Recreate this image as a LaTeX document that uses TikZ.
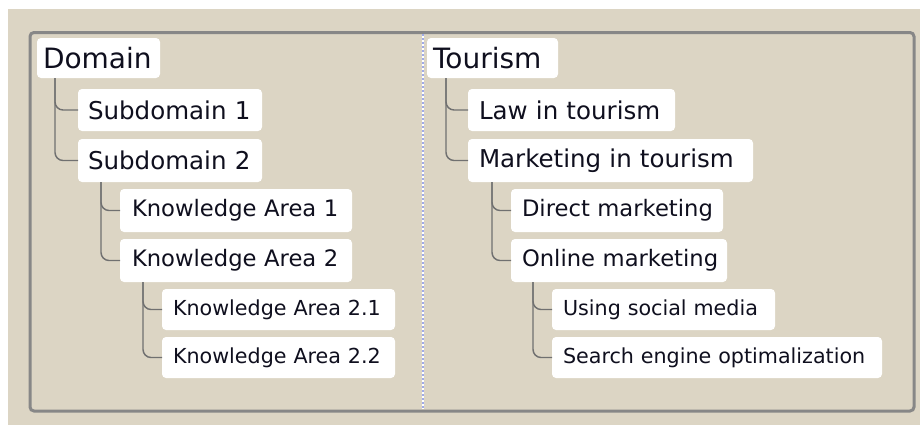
\documentclass[tikz,border=0pt]{standalone}
\usepackage{fontspec}
\setmainfont{DejaVu Sans}
\definecolor{bgc}{RGB}{220,213,196}
\definecolor{framec}{RGB}{135,135,135}
\definecolor{connc}{RGB}{112,112,112}
\definecolor{dotc}{RGB}{160,170,230}
\definecolor{txtc}{RGB}{15,15,30}
\tikzset{
  box/.style={fill=white, rounded corners=3pt, text=txtc, outer sep=0pt, align=left},
  conn/.style={draw=connc, line width=1.1pt, rounded corners=6pt},
  framebox/.style={draw=framec, line width=2.25pt, rounded corners=3pt},
}
% name, left, top, right, bottom, pad, fontsize(pt), text
\newcommand\tbox[8]{%
  \pgfmathsetmacro\tw{(#4-#2-2*#6)*0.75}%
  \pgfmathsetmacro\mh{(#5-#3)*0.75}%
  \pgfmathsetmacro\ix{#6*0.75}%
  \pgfmathsetmacro\ym{(#3+#5)/2}%
  \node[box, font=\fontsize{#7pt}{#7pt}\selectfont, anchor=west, text width=\tw pt,
        minimum height=\mh pt, inner xsep=\ix pt, inner ysep=0pt] (#1) at (#2,\ym) {\mbox{#8}};%
}
\begin{document}
\begin{tikzpicture}[x=0.75pt,y=-0.75pt]
\useasboundingbox (0,0) rectangle (920,425);
\fill[white] (0,0) rectangle (920,425);
\fill[bgc] (8,9) rectangle (920,425);
\draw[framebox] (30,32.5) rectangle (914,411);
\coordinate (dtop) at (423,34);
\coordinate (dbot) at (423,409);
\draw[white, line width=1.3pt] (dtop) -- (dbot);
\draw[dotc, line width=1.3pt, dash pattern=on 1.5pt off 1.5pt] (dtop) -- (dbot);

% left tree
\tbox{dom}{37}{38}{160}{78}{6}{21}{Domain}
\tbox{sub1}{78}{89}{262}{131}{10}{18.4}{Subdomain 1}
\tbox{sub2}{78}{139}{262}{182}{10}{18.4}{Subdomain 2}
\tbox{ka1}{120}{189}{352}{232}{12}{17}{Knowledge Area 1}
\tbox{ka2}{120}{239}{352}{282}{12}{17}{Knowledge Area 2}
\tbox{ka21}{162}{289}{395}{330}{11}{15.5}{Knowledge Area 2.1}
\tbox{ka22}{162}{337}{395}{378}{11}{15.5}{Knowledge Area 2.2}

% right tree
\tbox{tour}{427}{38}{558}{78}{6}{21}{Tourism}
\tbox{law}{468}{89}{675}{131}{11}{18.4}{Law in tourism}
\tbox{mkt}{468}{139}{753}{182}{11}{18.4}{Marketing in tourism}
\tbox{dir}{511}{189}{723}{232}{11}{17}{Direct marketing}
\tbox{onl}{511}{239}{727}{282}{11}{17}{Online marketing}
\tbox{soc}{552}{289}{775}{330}{11}{15.5}{Using social media}
\tbox{seo}{552}{337}{882}{378}{11}{15.5}{Search engine optimalization}

% connectors
\draw[conn] ([xshift=13.5pt]dom.south west) |- (sub1.west);
\draw[conn] ([xshift=13.5pt]dom.south west) |- (sub2.west);
\draw[conn] ([xshift=17.25pt]sub2.south west) |- (ka1.west);
\draw[conn] ([xshift=17.25pt]sub2.south west) |- (ka2.west);
\draw[conn] ([xshift=17.25pt]ka2.south west) |- (ka21.west);
\draw[conn] ([xshift=17.25pt]ka2.south west) |- (ka22.west);
\draw[conn] ([xshift=14.25pt]tour.south west) |- (law.west);
\draw[conn] ([xshift=14.25pt]tour.south west) |- (mkt.west);
\draw[conn] ([xshift=18pt]mkt.south west) |- (dir.west);
\draw[conn] ([xshift=18pt]mkt.south west) |- (onl.west);
\draw[conn] ([xshift=16.5pt]onl.south west) |- (soc.west);
\draw[conn] ([xshift=16.5pt]onl.south west) |- (seo.west);
\end{tikzpicture}
\end{document}
